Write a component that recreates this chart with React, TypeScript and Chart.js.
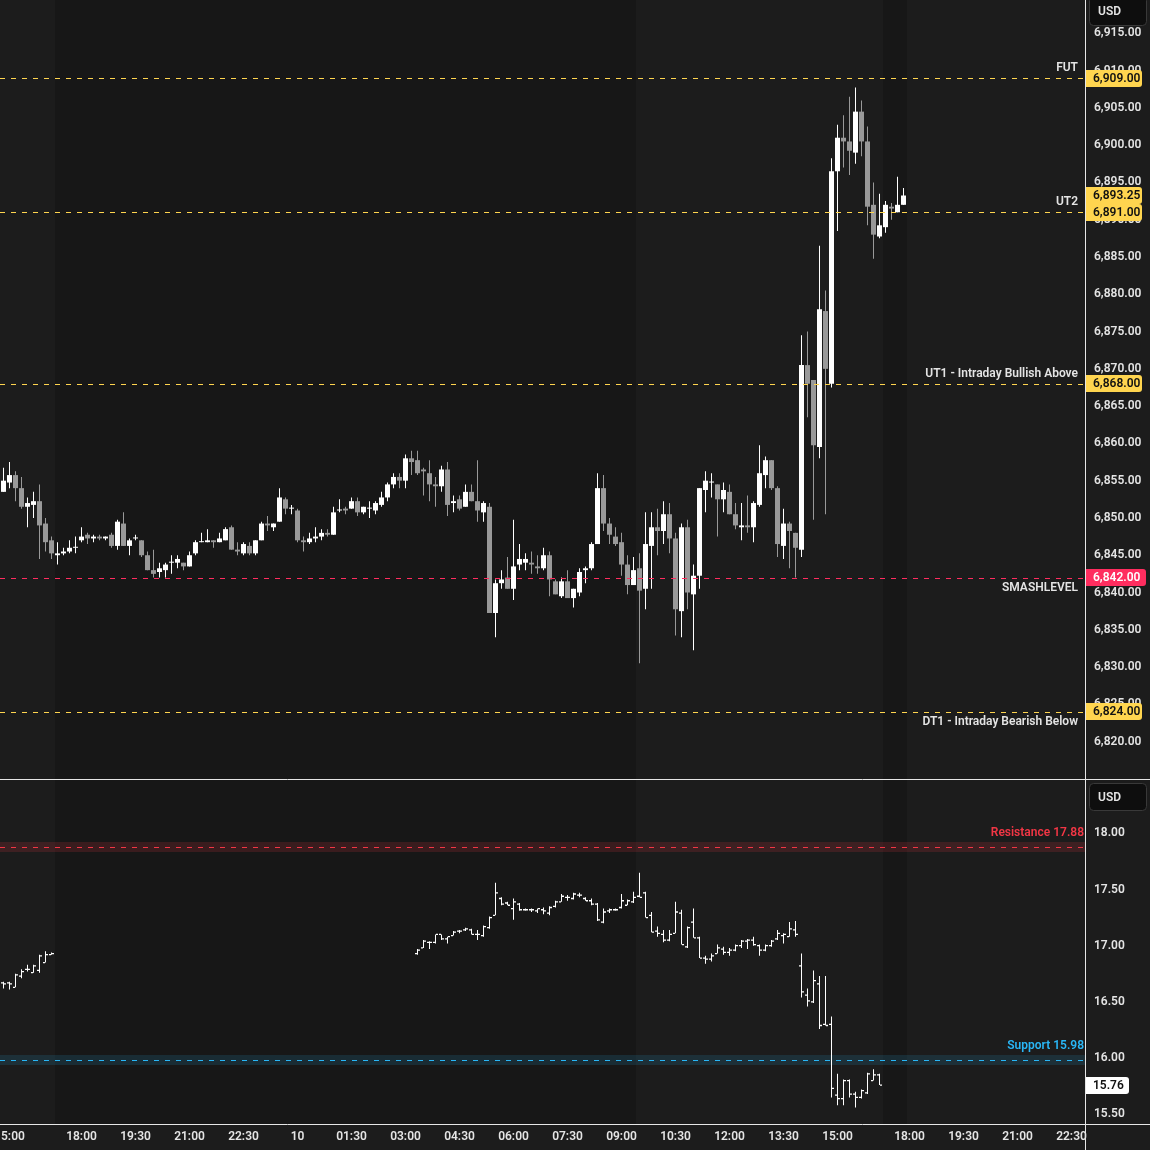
import { useEffect, useRef } from 'react';
import { Chart, registerables } from 'chart.js';

Chart.register(...registerables);

// ---------- Main instrument: 10-minute candles (bar index 0 = 14:50, 13 = 18:00 of next session) ----------
const candleOpen = [
  6853.5, 6854.75, 6855.75, 6854.0, 6851.5, 6851.75, 6852.25, 6849.25, 6847.0, 6845.0,
  6845.25, 6845.5, 6846.0, 6847.0, 6847.75, 6847.25, 6847.5, 6847.25, 6847.75, 6846.25,
  6849.25, 6846.25, 6847.25, 6847.0, 6845.0, 6843.0, 6842.75, 6843.0, 6844.0, 6844.0,
  6844.0, 6843.5, 6845.25, 6846.75, 6846.75, 6847.0, 6846.75, 6847.0, 6848.75, 6845.75,
  6845.25, 6846.25, 6845.25, 6847.0, 6849.25, 6848.75, 6849.5, 6852.5, 6851.25, 6851.0,
  6847.0, 6846.75, 6847.25, 6847.5, 6848.0, 6847.75, 6851.0, 6851.25, 6851.25, 6852.25,
  6850.75, 6851.25, 6851.0, 6851.75, 6852.75, 6854.5, 6855.5, 6855.0, 6858.0, 6857.75,
  6856.5, 6856.0, 6854.5, 6854.25, 6856.5, 6852.0, 6852.5, 6851.5, 6853.5, 6852.25,
  6850.75, 6851.5, 6837.25, 6841.25, 6842.0, 6840.5, 6843.75, 6844.0, 6844.0, 6843.5,
  6843.25, 6845.0, 6841.5, 6839.5, 6841.5, 6839.25, 6840.0, 6843.0, 6843.25, 6846.5,
  6854.0, 6849.25, 6847.5, 6846.75, 6843.75, 6841.0, 6843.25, 6840.5, 6846.25, 6848.75,
  6848.25, 6850.5, 6847.25, 6837.5, 6848.75, 6839.75, 6842.25, 6853.75, 6854.75, 6854.5,
  6852.5, 6853.5, 6850.5, 6848.75, 6849.0, 6848.75, 6851.75, 6855.75, 6857.75, 6854.0,
  6846.25, 6849.25, 6848.0, 6845.75, 6870.5, 6868.5, 6859.5, 6877.75, 6868.0, 6896.5,
  6901.0, 6900.5, 6899.0, 6904.5, 6900.5, 6892.0, 6887.75, 6889.0, 6891.75, 6891.0,
  6892.0,
];
const candleHigh = [
  6856.75, 6857.5, 6856.25, 6855.5, 6852.75, 6853.5, 6854.5, 6850.0, 6847.5, 6846.75,
  6846.0, 6847.0, 6847.5, 6848.75, 6848.0, 6847.75, 6847.75, 6847.5, 6848.0, 6849.75,
  6850.75, 6847.25, 6847.75, 6847.0, 6845.5, 6845.75, 6844.0, 6844.0, 6845.0, 6845.0,
  6844.0, 6845.5, 6847.0, 6848.0, 6848.5, 6847.0, 6848.0, 6848.75, 6849.0, 6846.75,
  6846.75, 6846.75, 6847.0, 6849.5, 6850.25, 6849.25, 6854.0, 6852.75, 6851.75, 6851.25,
  6847.5, 6848.0, 6848.75, 6848.5, 6848.5, 6851.5, 6852.5, 6851.5, 6852.75, 6852.75,
  6851.5, 6852.25, 6852.25, 6853.5, 6854.75, 6856.0, 6856.0, 6858.5, 6859.0, 6859.0,
  6856.75, 6857.75, 6855.5, 6857.0, 6857.5, 6853.0, 6853.0, 6854.5, 6854.5, 6857.75,
  6852.25, 6852.0, 6841.75, 6843.0, 6844.75, 6849.75, 6846.5, 6845.25, 6845.5, 6845.0,
  6846.0, 6845.5, 6841.75, 6842.0, 6843.0, 6840.5, 6843.25, 6843.5, 6846.75, 6856.0,
  6855.75, 6850.0, 6848.75, 6848.0, 6845.0, 6844.75, 6845.25, 6850.75, 6850.75, 6851.25,
  6852.25, 6852.0, 6848.0, 6849.25, 6849.75, 6843.75, 6854.0, 6856.25, 6856.0, 6854.5,
  6854.75, 6854.5, 6852.0, 6852.0, 6853.0, 6852.25, 6859.75, 6858.25, 6857.75, 6854.25,
  6851.25, 6849.5, 6848.0, 6874.5, 6875.0, 6868.5, 6886.5, 6880.5, 6898.25, 6902.75,
  6904.0, 6906.5, 6907.75, 6906.0, 6902.5, 6895.0, 6893.5, 6892.5, 6892.25, 6895.75,
  6894.25,
];
const candleLow = [
  6853.5, 6854.0, 6852.25, 6851.25, 6848.75, 6850.0, 6844.5, 6845.5, 6844.5, 6843.75,
  6845.0, 6845.25, 6845.25, 6846.75, 6846.5, 6846.75, 6847.0, 6847.0, 6846.0, 6845.75,
  6846.25, 6845.0, 6847.0, 6844.75, 6843.0, 6842.0, 6842.0, 6842.0, 6842.5, 6843.25,
  6843.0, 6843.5, 6845.0, 6846.75, 6846.75, 6846.0, 6846.75, 6847.0, 6845.75, 6845.0,
  6845.0, 6845.0, 6845.0, 6847.0, 6848.25, 6848.25, 6849.5, 6850.5, 6850.5, 6846.75,
  6845.5, 6846.5, 6846.75, 6847.0, 6847.5, 6847.75, 6850.75, 6850.5, 6851.25, 6850.25,
  6850.5, 6850.0, 6850.5, 6851.5, 6852.25, 6854.0, 6854.0, 6854.0, 6855.75, 6855.75,
  6853.0, 6852.25, 6851.5, 6853.5, 6850.25, 6850.75, 6851.0, 6851.5, 6852.25, 6849.5,
  6849.5, 6837.25, 6834.0, 6840.5, 6840.5, 6839.0, 6843.0, 6843.0, 6842.5, 6842.5,
  6843.0, 6839.5, 6839.75, 6839.25, 6839.25, 6838.0, 6839.5, 6841.25, 6843.0, 6846.5,
  6848.25, 6846.5, 6846.25, 6842.25, 6839.75, 6841.0, 6830.5, 6837.75, 6840.5, 6845.0,
  6846.5, 6845.25, 6834.25, 6834.0, 6837.75, 6832.25, 6840.5, 6850.75, 6852.75, 6847.5,
  6850.75, 6850.5, 6848.5, 6847.0, 6848.0, 6846.75, 6851.5, 6854.0, 6853.75, 6844.75,
  6844.5, 6843.25, 6842.0, 6844.75, 6863.5, 6849.75, 6858.0, 6850.5, 6867.5, 6888.5,
  6897.0, 6896.0, 6897.5, 6898.5, 6889.25, 6884.75, 6887.5, 6888.25, 6890.0, 6891.0,
  6892.0,
];
const candleClose = [
  6855.0, 6855.75, 6854.0, 6851.5, 6852.0, 6852.25, 6849.0, 6846.75, 6845.25, 6845.25,
  6845.5, 6846.0, 6846.0, 6847.5, 6847.25, 6847.5, 6847.25, 6847.5, 6846.25, 6849.5,
  6846.25, 6847.0, 6847.25, 6845.0, 6843.0, 6842.5, 6843.25, 6843.75, 6844.0, 6844.5,
  6843.5, 6845.0, 6846.75, 6846.75, 6847.0, 6846.75, 6847.25, 6848.5, 6845.75, 6845.5,
  6846.5, 6845.25, 6847.0, 6849.25, 6849.0, 6849.25, 6852.75, 6851.25, 6851.25, 6847.0,
  6846.75, 6847.25, 6847.5, 6848.0, 6847.75, 6850.75, 6851.0, 6851.0, 6852.25, 6850.75,
  6851.5, 6851.25, 6852.0, 6852.75, 6854.5, 6855.5, 6855.0, 6858.0, 6857.5, 6856.0,
  6856.25, 6854.5, 6854.25, 6856.5, 6851.75, 6852.25, 6851.25, 6853.5, 6852.25, 6851.0,
  6852.0, 6837.25, 6841.25, 6841.75, 6840.5, 6843.5, 6844.5, 6844.5, 6843.75, 6843.25,
  6845.0, 6841.75, 6839.75, 6841.5, 6839.25, 6840.5, 6842.75, 6843.25, 6846.5, 6854.0,
  6849.25, 6847.75, 6846.5, 6843.75, 6841.0, 6843.0, 6840.25, 6846.5, 6848.75, 6848.25,
  6850.5, 6847.25, 6837.75, 6848.75, 6840.0, 6842.25, 6854.0, 6855.0, 6854.75, 6852.5,
  6853.75, 6850.5, 6849.0, 6849.0, 6848.75, 6852.0, 6856.0, 6857.75, 6854.0, 6846.5,
  6849.25, 6848.25, 6846.0, 6870.5, 6868.0, 6859.75, 6878.0, 6870.0, 6896.5, 6901.0,
  6900.5, 6899.25, 6904.5, 6900.5, 6891.75, 6888.0, 6889.25, 6892.0, 6891.5, 6892.0,
  6893.25,
];

// ---------- Volatility index: OHLC bars (same bar index grid) ----------
const vixIdx = [
  0, 1, 2, 3, 4, 5, 6, 7, 8,
  69, 70, 71, 72, 73, 74, 75, 76, 77, 78, 79, 80, 81, 82, 83, 84, 85, 86, 87, 88,
  89, 90, 91, 92, 93, 94, 95, 96, 97, 98, 99, 100, 101, 102, 103, 104, 105, 106, 107, 108,
  109, 110, 111, 112, 113, 114, 115, 116, 117, 118, 119, 120, 121, 122, 123, 124, 125, 126, 127, 128,
  129, 130, 131, 132, 133, 134, 135, 136, 137, 138, 139, 140, 141, 142, 143, 144, 145, 146,
];
const vixOpen = [
  16.67, 16.67, 16.63, 16.73, 16.79, 16.76, 16.78, 16.85, 16.92,
  16.93, 16.98, 17.03, 17.03, 17.10, 17.06, 17.09, 17.13, 17.14, 17.14,
  17.10, 17.09, 17.16, 17.27, 17.42, 17.38, 17.33, 17.37, 17.32, 17.32,
  17.31, 17.32, 17.29, 17.35, 17.39, 17.43, 17.42, 17.45, 17.42, 17.40,
  17.37, 17.21, 17.31, 17.32, 17.34, 17.36, 17.39, 17.44, 17.47, 17.27,
  17.13, 17.10, 17.05, 17.11, 17.29, 16.99, 17.21, 17.07, 16.89, 16.88,
  16.93, 16.97, 16.94, 16.96, 17.00, 17.04, 17.05, 17.00, 16.96, 17.00,
  17.06, 17.09, 17.08, 17.14, 16.82, 16.56, 16.50, 16.66, 16.30, 16.30,
  15.67, 15.64, 15.80, 15.68, 15.65, 15.69, 15.80, 15.85,
];
const vixHigh = [
  16.68, 16.68, 16.75, 16.79, 16.83, 16.83, 16.92, 16.95, 16.94,
  16.97, 17.05, 17.04, 17.10, 17.10, 17.08, 17.13, 17.14, 17.16, 17.15,
  17.14, 17.18, 17.26, 17.56, 17.43, 17.39, 17.42, 17.38, 17.33, 17.33,
  17.33, 17.34, 17.35, 17.40, 17.46, 17.45, 17.47, 17.47, 17.43, 17.42,
  17.38, 17.33, 17.33, 17.33, 17.46, 17.41, 17.48, 17.65, 17.48, 17.30,
  17.17, 17.14, 17.14, 17.39, 17.32, 17.17, 17.33, 17.08, 16.91, 16.93,
  17.01, 16.99, 16.98, 17.01, 17.05, 17.06, 17.08, 17.01, 17.01, 17.05,
  17.14, 17.11, 17.21, 17.22, 16.93, 16.62, 16.78, 16.73, 16.73, 16.37,
  15.86, 15.81, 15.81, 15.70, 15.72, 15.87, 15.90, 15.86,
];
const vixLow = [
  16.62, 16.61, 16.63, 16.71, 16.77, 16.76, 16.76, 16.85, 16.92,
  16.92, 16.98, 16.97, 17.02, 17.05, 17.02, 17.09, 17.11, 17.13, 17.10,
  17.05, 17.08, 17.15, 17.27, 17.36, 17.36, 17.23, 17.31, 17.31, 17.30,
  17.29, 17.28, 17.27, 17.34, 17.39, 17.40, 17.41, 17.43, 17.40, 17.36,
  17.22, 17.20, 17.29, 17.31, 17.33, 17.36, 17.38, 17.43, 17.25, 17.12,
  17.08, 17.03, 17.04, 17.11, 17.01, 16.98, 17.07, 16.89, 16.84, 16.86,
  16.93, 16.92, 16.91, 16.95, 16.98, 16.97, 17.00, 16.91, 16.95, 16.99,
  17.05, 17.02, 17.08, 17.08, 16.54, 16.46, 16.49, 16.26, 16.29, 15.65,
  15.58, 15.58, 15.65, 15.56, 15.64, 15.68, 15.80, 15.76,
];
const vixClose = [
  16.66, 16.66, 16.74, 16.77, 16.79, 16.82, 16.91, 16.92, 16.93,
  16.96, 17.04, 17.03, 17.10, 17.06, 17.08, 17.12, 17.13, 17.15, 17.10,
  17.10, 17.17, 17.25, 17.47, 17.37, 17.36, 17.39, 17.32, 17.32, 17.32,
  17.33, 17.31, 17.34, 17.39, 17.44, 17.43, 17.46, 17.45, 17.40, 17.37,
  17.23, 17.30, 17.32, 17.32, 17.40, 17.40, 17.43, 17.43, 17.25, 17.12,
  17.11, 17.05, 17.10, 17.30, 17.01, 17.16, 17.07, 16.89, 16.88, 16.91,
  16.98, 16.94, 16.96, 17.00, 17.04, 17.05, 17.01, 16.96, 17.00, 17.04,
  17.11, 17.10, 17.15, 17.10, 16.59, 16.51, 16.69, 16.29, 16.29, 15.73,
  15.64, 15.80, 15.68, 15.65, 15.71, 15.86, 15.85, 15.76,
];

// ---------- Axes / ticks ----------
const timeTickIdx = [1, 13, 22, 31, 40, 49, 58, 67, 76, 85, 94, 103, 112, 121, 130, 139, 151, 160, 169, 178];
const timeTickLabels = ['15:00', '18:00', '19:30', '21:00', '22:30', '10', '01:30', '03:00', '04:30', '06:00',
  '07:30', '09:00', '10:30', '12:00', '13:30', '15:00', '18:00', '19:30', '21:00', '22:30'];
const priceTicks = [6820, 6825, 6830, 6835, 6840, 6845, 6850, 6855, 6860, 6865, 6870, 6875, 6880, 6885,
  6890, 6895, 6900, 6905, 6910, 6915];
const vixTicks = [15.5, 16.0, 16.5, 17.0, 17.5, 18.0];

// extended-hours shading (bar-index ranges)
const ethStart = [8.5, 146.5];
const ethEnd = [105.5, 150.5];

// ---------- Levels ----------
const levelNames = ['FUT', 'UT2', 'UT1 - Intraday Bullish Above', 'SMASHLEVEL', 'DT1 - Intraday Bearish Below'];
const levelValues = [6909, 6891, 6868, 6842, 6824];
const vixLevelNames = ['Resistance', 'Support'];
const vixLevelValues = [17.88, 15.98];

// ---------- Styles ----------
const BG_LIGHT = '#1c1c1c';
const BG_DARK = '#171717';
const TEXT = '#e4e4e4';
const FONT = 'Roboto';
const WEIGHT = '600';
const UP = '#ffffff';
const DOWN = '#999999';
const SEP = '#e6e6e6';
const YELLOW = '#ffd54f';
const PINK = '#ff2d5f';
const X_MIN = -3.5 / 6;
const X_MAX = X_MIN + 1085 / 6;
const P_MIN = 6814.852;
const P_MAX = 6919.472;
const V_MIN = 15.4137;
const V_MAX = 18.4742;

const LEVEL_STYLE: any = {
  'FUT': { line: YELLOW, tag: YELLOW, tagText: '#111', dy: -10 },
  'UT2': { line: YELLOW, tag: YELLOW, tagText: '#111', dy: -10 },
  'UT1 - Intraday Bullish Above': { line: YELLOW, tag: YELLOW, tagText: '#111', dy: -10 },
  'SMASHLEVEL': { line: PINK, tag: PINK, tagText: '#fff', dy: 10 },
  'DT1 - Intraday Bearish Below': { line: YELLOW, tag: YELLOW, tagText: '#111', dy: 10 },
};
const VIX_STYLE: any = {
  'Resistance': { line: '#f23645', band: 'rgba(242,54,69,0.16)', dy: -15 },
  'Support': { line: '#29b6f6', band: 'rgba(41,182,246,0.13)', dy: -14.5 },
};

const fmtPrice = (v: number) => v.toLocaleString('en-US', { minimumFractionDigits: 2, maximumFractionDigits: 2 });
const canvasFont = `${WEIGHT} 12px ${FONT}`;

function drawTag(ctx: any, x: number, yc: number, w: number, fill: string, color: string, text: string) {
  const h = 17;
  const top = Math.round(yc - h / 2);
  ctx.fillStyle = fill;
  ctx.beginPath();
  ctx.roundRect(x, top, w, h, [0, 3, 3, 0]);
  ctx.fill();
  ctx.fillStyle = color;
  ctx.font = canvasFont;
  ctx.textAlign = 'left';
  ctx.textBaseline = 'middle';
  ctx.fillText(text, x + 7, top + h / 2 + 0.5);
}

function drawUsd(ctx: any, y: number, h: number) {
  ctx.fillStyle = '#0e0e0e';
  ctx.strokeStyle = '#393939';
  ctx.lineWidth = 1;
  ctx.beginPath();
  ctx.roundRect(1089.5, y + 0.5, 57, h, 4);
  ctx.fill();
  ctx.stroke();
  ctx.fillStyle = TEXT;
  ctx.font = canvasFont;
  ctx.textAlign = 'left';
  ctx.textBaseline = 'middle';
  ctx.fillText('USD', 1098, y + h / 2 + 1);
}

const zeroPad = (s: any) => {
  s.paddingTop = 0;
  s.paddingBottom = 0;
  s.paddingLeft = 0;
  s.paddingRight = 0;
};

const sessionBg = {
  id: 'sessionBg',
  beforeDraw(chart: any) {
    const { ctx, chartArea: a, scales } = chart;
    const xs = scales.x;
    ctx.save();
    ctx.fillStyle = BG_LIGHT;
    ctx.fillRect(0, 0, chart.width, chart.height);
    ctx.fillStyle = BG_DARK;
    for (let i = 0; i < ethStart.length; i++) {
      const x1 = Math.round(xs.getPixelForValue(ethStart[i]));
      const x2 = Math.round(xs.getPixelForValue(ethEnd[i]));
      ctx.fillRect(x1, a.top, x2 - x1, a.bottom - a.top);
    }
    ctx.restore();
  },
};

const topOverlay = {
  id: 'topOverlay',
  afterDatasetsDraw(chart: any) {
    const { ctx, chartArea: a, scales: { y } } = chart;
    ctx.save();
    ctx.lineWidth = 1;
    ctx.setLineDash([5, 6]);
    levelValues.forEach((v, i) => {
      const st = LEVEL_STYLE[levelNames[i]];
      const py = Math.round(y.getPixelForValue(v)) + 0.5;
      ctx.strokeStyle = st.line;
      ctx.beginPath();
      ctx.moveTo(a.left, py);
      ctx.lineTo(a.right, py);
      ctx.stroke();
    });
    ctx.setLineDash([]);
    ctx.font = canvasFont;
    ctx.textAlign = 'right';
    ctx.textBaseline = 'middle';
    ctx.fillStyle = TEXT;
    levelValues.forEach((v, i) => {
      const st = LEVEL_STYLE[levelNames[i]];
      ctx.fillText(levelNames[i], a.right - 7, y.getPixelForValue(v) + st.dy);
    });
    ctx.restore();
  },
  afterDraw(chart: any) {
    const { ctx, chartArea: a, scales: { y } } = chart;
    ctx.save();
    ctx.strokeStyle = SEP;
    ctx.lineWidth = 1;
    ctx.beginPath();
    ctx.moveTo(a.right + 0.5, 0);
    ctx.lineTo(a.right + 0.5, chart.height);
    ctx.moveTo(0, chart.height - 0.5);
    ctx.lineTo(chart.width, chart.height - 0.5);
    ctx.stroke();
    levelValues.forEach((v, i) => {
      const st = LEVEL_STYLE[levelNames[i]];
      drawTag(ctx, a.right + 1, y.getPixelForValue(v), st.tag === PINK ? 60 : 56, st.tag, st.tagText, fmtPrice(v));
    });
    const last = candleClose[candleClose.length - 1];
    drawTag(ctx, a.right + 1, y.getPixelForValue(last), 56, YELLOW, '#111', fmtPrice(last));
    drawUsd(ctx, -4, 29);
    ctx.restore();
  },
};

const botOverlay = {
  id: 'botOverlay',
  beforeDatasetsDraw(chart: any) {
    const { ctx, chartArea: a, scales: { y } } = chart;
    ctx.save();
    vixLevelValues.forEach((v, i) => {
      const st = VIX_STYLE[vixLevelNames[i]];
      const py = Math.round(y.getPixelForValue(v));
      ctx.fillStyle = st.band;
      ctx.fillRect(a.left, py - 5, a.right - a.left, 10);
    });
    ctx.restore();
  },
  afterDatasetsDraw(chart: any) {
    const { ctx, chartArea: a, scales: { y } } = chart;
    ctx.save();
    ctx.lineWidth = 1;
    ctx.font = canvasFont;
    ctx.textAlign = 'right';
    ctx.textBaseline = 'middle';
    vixLevelValues.forEach((v, i) => {
      const st = VIX_STYLE[vixLevelNames[i]];
      const py = Math.round(y.getPixelForValue(v)) + 0.5;
      ctx.strokeStyle = st.line;
      ctx.setLineDash([5, 6]);
      ctx.beginPath();
      ctx.moveTo(a.left, py);
      ctx.lineTo(a.right, py);
      ctx.stroke();
      ctx.setLineDash([]);
      ctx.fillStyle = st.line;
      ctx.fillText(`${vixLevelNames[i]} ${v.toFixed(2)}`, a.right - 1, py + st.dy);
    });
    ctx.restore();
  },
  afterDraw(chart: any) {
    const { ctx, chartArea: a, scales: { y } } = chart;
    ctx.save();
    ctx.strokeStyle = SEP;
    ctx.lineWidth = 1;
    ctx.beginPath();
    ctx.moveTo(a.right + 0.5, 0);
    ctx.lineTo(a.right + 0.5, chart.height);
    ctx.moveTo(0, a.bottom + 0.5);
    ctx.lineTo(chart.width, a.bottom + 0.5);
    ctx.stroke();
    const last = vixClose[vixClose.length - 1];
    drawTag(ctx, a.right + 1, y.getPixelForValue(last), 43, '#ffffff', '#111', last.toFixed(2));
    drawUsd(ctx, 3, 27);
    ctx.restore();
  },
};

const tickFont = { family: FONT, size: 12, weight: WEIGHT };

function topConfig(): any {
  const colors = candleClose.map((c, i) => (c >= candleOpen[i] ? UP : DOWN));
  return {
    type: 'bar',
    data: {
      datasets: [
        {
          label: 'wick',
          data: candleLow.map((l, i) => ({ x: i, y: [l, candleHigh[i]] })),
          backgroundColor: colors,
          barThickness: 1,
          grouped: false,
          inflateAmount: 0,
          order: 2,
        },
        {
          label: 'body',
          data: candleOpen.map((o, i) => ({ x: i, y: [o, candleClose[i]] })),
          backgroundColor: colors,
          barThickness: 5,
          minBarLength: 1,
          grouped: false,
          inflateAmount: 0,
          order: 1,
        },
      ],
    },
    options: {
      animation: false,
      responsive: false,
      devicePixelRatio: 1,
      events: [],
      layout: { padding: 0, autoPadding: false },
      plugins: { legend: { display: false }, tooltip: { enabled: false } },
      scales: {
        x: { type: 'linear', min: X_MIN, max: X_MAX, display: false, offset: false, afterFit: zeroPad },
        y: {
          position: 'right',
          min: P_MIN,
          max: P_MAX,
          afterFit: (s: any) => { s.width = 65; zeroPad(s); },
          afterBuildTicks: (s: any) => { s.ticks = priceTicks.map((v) => ({ value: v })); },
          grid: { display: false, drawTicks: false },
          border: { display: false },
          ticks: { color: TEXT, font: tickFont, padding: 9, callback: (v: any) => fmtPrice(Number(v)) },
        },
      },
    },
    plugins: [sessionBg, topOverlay],
  };
}

function botConfig(): any {
  return {
    type: 'bar',
    data: {
      datasets: [
        {
          label: 'range',
          data: vixIdx.map((k, i) => ({ x: k, y: [vixLow[i], vixHigh[i]] })),
          backgroundColor: '#ffffff',
          barThickness: 1,
          minBarLength: 1,
          grouped: false,
          inflateAmount: 0,
          order: 2,
        },
        {
          type: 'scatter',
          label: 'open',
          data: vixIdx.map((k, i) => ({ x: k - 0.25, y: vixOpen[i] })),
          pointStyle: 'line',
          pointRadius: 1,
          pointHoverRadius: 1,
          borderColor: '#ffffff',
          backgroundColor: '#ffffff',
          borderWidth: 1.3,
          order: 1,
        },
        {
          type: 'scatter',
          label: 'close',
          data: vixIdx.map((k, i) => ({ x: k + 0.25, y: vixClose[i] })),
          pointStyle: 'line',
          pointRadius: 1,
          pointHoverRadius: 1,
          borderColor: '#ffffff',
          backgroundColor: '#ffffff',
          borderWidth: 1.3,
          order: 1,
        },
      ],
    },
    options: {
      animation: false,
      responsive: false,
      devicePixelRatio: 1,
      events: [],
      layout: { padding: 0, autoPadding: false },
      plugins: { legend: { display: false }, tooltip: { enabled: false } },
      scales: {
        x: {
          type: 'linear',
          position: 'bottom',
          min: X_MIN,
          max: X_MAX,
          offset: false,
          afterFit: (s: any) => { s.height = 26; zeroPad(s); },
          afterBuildTicks: (s: any) => { s.ticks = timeTickIdx.map((v) => ({ value: v })); },
          grid: { display: false, drawTicks: false },
          border: { display: false },
          ticks: {
            color: TEXT,
            font: tickFont,
            padding: 6,
            autoSkip: false,
            maxRotation: 0,
            minRotation: 0,
            callback: (_v: any, i: number) => timeTickLabels[i],
          },
        },
        y: {
          position: 'right',
          min: V_MIN,
          max: V_MAX,
          afterFit: (s: any) => { s.width = 65; zeroPad(s); },
          afterBuildTicks: (s: any) => { s.ticks = vixTicks.map((v) => ({ value: v })); },
          grid: { display: false, drawTicks: false },
          border: { display: false },
          ticks: { color: TEXT, font: tickFont, padding: 9, callback: (v: any) => Number(v).toFixed(2) },
        },
      },
    },
    plugins: [sessionBg, botOverlay],
  };
}

export default function App() {
  const topRef = useRef<HTMLCanvasElement>(null);
  const botRef = useRef<HTMLCanvasElement>(null);
  useEffect(() => {
    const top = new Chart(topRef.current as any, topConfig());
    const bot = new Chart(botRef.current as any, botConfig());
    return () => {
      top.destroy();
      bot.destroy();
    };
  }, []);
  return (
    <div style={{ position: 'fixed', left: 0, top: 0, width: 1150, height: 1150, background: BG_LIGHT, overflow: 'hidden' }}>
      <canvas ref={topRef} width={1150} height={780} style={{ display: 'block', width: 1150, height: 780 }} />
      <canvas ref={botRef} width={1150} height={370} style={{ display: 'block', width: 1150, height: 370 }} />
    </div>
  );
}
